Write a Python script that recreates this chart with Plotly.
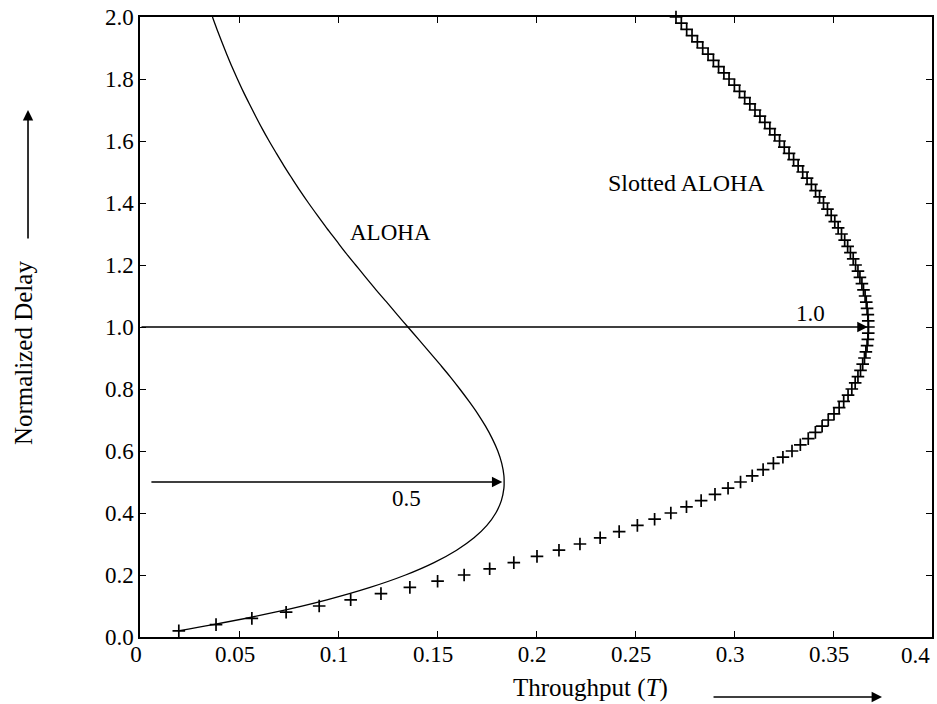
import plotly.graph_objects as go

# Offered load values (y axis) and throughput values (x axis)
slotted_load = [round(0.02 * k, 2) for k in range(1, 101)]
slotted_throughput = [
    0.0196, 0.0384, 0.0565, 0.0738, 0.0905, 0.1064, 0.1217, 0.1363, 0.1503, 0.1637,
    0.1766, 0.1888, 0.2005, 0.2116, 0.2222, 0.2324, 0.2420, 0.2512, 0.2599, 0.2681,
    0.2760, 0.2834, 0.2904, 0.2970, 0.3033, 0.3092, 0.3147, 0.3199, 0.3247, 0.3293,
    0.3335, 0.3375, 0.3411, 0.3445, 0.3476, 0.3505, 0.3531, 0.3554, 0.3576, 0.3595,
    0.3612, 0.3626, 0.3639, 0.3650, 0.3659, 0.3666, 0.3672, 0.3676, 0.3678, 0.3679,
    0.3678, 0.3676, 0.3672, 0.3668, 0.3662, 0.3654, 0.3646, 0.3636, 0.3626, 0.3614,
    0.3602, 0.3588, 0.3574, 0.3559, 0.3543, 0.3526, 0.3509, 0.3491, 0.3472, 0.3452,
    0.3432, 0.3412, 0.3391, 0.3369, 0.3347, 0.3324, 0.3301, 0.3278, 0.3254, 0.3230,
    0.3206, 0.3181, 0.3156, 0.3131, 0.3106, 0.3080, 0.3054, 0.3028, 0.3002, 0.2975,
    0.2949, 0.2922, 0.2896, 0.2869, 0.2842, 0.2815, 0.2788, 0.2761, 0.2734, 0.2707,
]

aloha_load = [0.02, 0.04, 0.08, 0.12, 0.16, 0.20, 0.24, 0.28, 0.32, 0.36, 0.40, 0.44,
              0.48, 0.50, 0.52, 0.56, 0.60, 0.64, 0.68, 0.72, 0.76, 0.80, 0.84, 0.88,
              0.92, 0.96, 1.00, 1.04, 1.08, 1.12, 1.16, 1.20, 1.24, 1.28, 1.32, 1.36,
              1.40, 1.44, 1.48, 1.52, 1.56, 1.60, 1.64, 1.68, 1.72, 1.76, 1.80, 1.84,
              1.88, 1.92, 1.96, 2.00]
aloha_throughput = [0.0192, 0.0369, 0.0682, 0.0944, 0.1162, 0.1341, 0.1485, 0.1599,
                    0.1687, 0.1752, 0.1797, 0.1825, 0.1838, 0.1839, 0.1838, 0.1827,
                    0.1807, 0.1779, 0.1745, 0.1706, 0.1662, 0.1615, 0.1566, 0.1514,
                    0.1461, 0.1407, 0.1353, 0.1299, 0.1246, 0.1192, 0.1140, 0.1089,
                    0.1038, 0.0990, 0.0942, 0.0896, 0.0851, 0.0808, 0.0767, 0.0727,
                    0.0689, 0.0652, 0.0617, 0.0584, 0.0552, 0.0521, 0.0492, 0.0464,
                    0.0438, 0.0413, 0.0389, 0.0366]

x_tickvals = [0, 0.05, 0.1, 0.15, 0.2, 0.25, 0.3, 0.35, 0.4]
x_ticktext = ["0", "0.05", "0.1", "0.15", "0.2", "0.25", "0.3", "0.35", "0.4"]
y_tickvals = [0.0, 0.2, 0.4, 0.6, 0.8, 1.0, 1.2, 1.4, 1.6, 1.8, 2.0]
y_ticktext = ["0.0", "0.2", "0.4", "0.6", "0.8", "1.0", "1.2", "1.4", "1.6", "1.8", "2.0"]

FONT = "Liberation Serif, Times New Roman, serif"
FS = 23

fig = go.Figure()
fig.add_trace(go.Scatter(
    x=aloha_throughput, y=aloha_load, mode="lines",
    line=dict(color="black", width=1.3, shape="spline"),
    showlegend=False, hoverinfo="skip"))
fig.add_trace(go.Scatter(
    x=slotted_throughput, y=slotted_load, mode="markers",
    marker=dict(symbol="cross-thin", size=9, line=dict(color="black", width=1.7)),
    showlegend=False, hoverinfo="skip", cliponaxis=False))

axis_common = dict(showline=True, linecolor="black", linewidth=1.5, mirror="ticks",
                   ticks="inside", ticklen=6, tickwidth=1.2, tickcolor="black",
                   showgrid=False, zeroline=False, ticklabeloverflow="allow",
                   tickfont=dict(family=FONT, size=FS, color="black"))

# last x tick label sits flush against the right edge, drawn as an annotation below
fig.update_xaxes(range=[0, 0.4], tickvals=x_tickvals,
                 ticktext=x_ticktext[:-1] + [""],
                 ticklabelstandoff=-4, ticklabelshift=-4, **axis_common)
fig.update_yaxes(range=[0, 2.0], tickvals=y_tickvals, ticktext=y_ticktext, **axis_common)

def label(x, y, text, ref="x", angle=0, size=FS, xanchor="center"):
    return dict(x=x, y=y, xref="paper" if ref == "paper" else "x",
                yref="paper" if ref == "paper" else "y", text=text, showarrow=False,
                xanchor=xanchor, yanchor="middle", textangle=angle,
                font=dict(family=FONT, size=size, color="black"))

annotations = [
    # arrows at 1.0 and 0.5
    dict(x=0.3675, y=1.0, ax=0.0, ay=1.0, xref="x", yref="y", axref="x", ayref="y",
         text="", showarrow=True, arrowhead=2, arrowsize=1.3, arrowwidth=1.6, arrowcolor="black"),
    dict(x=0.183, y=0.5, ax=0.005, ay=0.5, xref="x", yref="y", axref="x", ayref="y",
         text="", showarrow=True, arrowhead=2, arrowsize=1.3, arrowwidth=1.6, arrowcolor="black"),
    label(0.3384, 1.045, "1.0"),
    label(0.1348, 0.447, "0.5"),
    label(0.1263, 1.305, "ALOHA"),
    label(0.2758, 1.465, "Slotted ALOHA", size=24),
    # last x tick label
    label(1.0, -0.0300, x_ticktext[-1], ref="paper", xanchor="right"),
    # axis titles
    label(-0.1477, 0.458, "Normalized Delay", ref="paper", angle=-90, size=25),
    label(0.5694, -0.0823, "Throughput (<i>T</i>)", ref="paper", size=25),
    # axis title arrows
    dict(x=-0.1414, y=0.850, xref="paper", yref="paper", ax=0, ay=130, text="",
         showarrow=True, arrowhead=2, arrowsize=1.3, arrowwidth=1.6, arrowcolor="black"),
    dict(x=0.9369, y=-0.0968, xref="paper", yref="paper", ax=-170, ay=0, text="",
         showarrow=True, arrowhead=2, arrowsize=1.3, arrowwidth=1.6, arrowcolor="black"),
]

fig.update_layout(
    width=937, height=704, autosize=False,
    margin=dict(l=140, r=5, t=17, b=67, autoexpand=False),
    plot_bgcolor="white", paper_bgcolor="white",
    annotations=annotations,
    font=dict(family=FONT, color="black"),
)

fig.write_html("out.html",
               config={"responsive": False, "displayModeBar": False},
               post_script="document.body.style.margin='0px';document.body.style.overflow='hidden';")
